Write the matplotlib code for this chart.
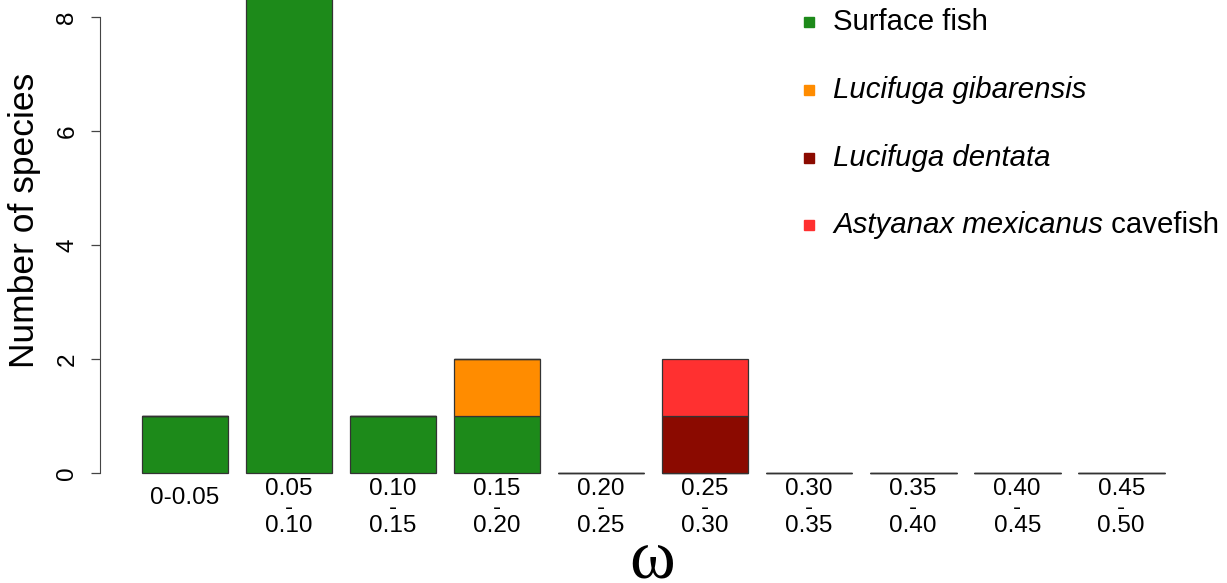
import matplotlib
matplotlib.use("Agg")
import matplotlib.pyplot as plt
import numpy as np

plt.rcParams["font.family"] = ["Liberation Sans", "DejaVu Sans"]

# omega bins and species counts per group
BIN_LOW = ["0-0.05", "0.05", "0.10", "0.15", "0.20", "0.25", "0.30", "0.35", "0.40", "0.45"]
BIN_HIGH = ["", "0.10", "0.15", "0.20", "0.25", "0.30", "0.35", "0.40", "0.45", "0.50"]

surface = [1, 9, 1, 1, 0, 0, 0, 0, 0, 0]
gibarensis = [0, 0, 0, 1, 0, 0, 0, 0, 0, 0]
dentata = [0, 0, 0, 0, 0, 1, 0, 0, 0, 0]
astyanax = [0, 0, 0, 0, 0, 1, 0, 0, 0, 0]

# (italic part, plain part, values, colour)
GROUPS = [
    ("", "Surface fish", surface, "#1d8a1a"),
    ("Lucifuga gibarensis", "", gibarensis, "#ff8c00"),
    ("Lucifuga dentata", "", dentata, "#8b0a00"),
    ("Astyanax mexicanus", " cavefish", astyanax, "#ff3030"),
]

W, H = 1227, 583
fig = plt.figure(figsize=(W / 100, H / 100), dpi=100)
ax = fig.add_axes([100 / W, 103 / H, 1127 / W, 480 / H])

# barplot-style positions: width 1, gap 0.2
x = 0.7 + 1.2 * np.arange(len(BIN_LOW))
bottom = np.zeros(len(x))
for _, _, vals, col in GROUPS:
    vals = np.array(vals, dtype=float)
    ax.bar(x, vals, width=1.0, bottom=bottom, color=col,
           edgecolor="#333333", linewidth=0.9)
    bottom += vals

ax.set_xlim(-0.28, 12.72)
ax.set_ylim(-0.123, 8.298)

for s in ["top", "right", "bottom"]:
    ax.spines[s].set_visible(False)
ax.spines["left"].set_bounds(0, 8)
ax.spines["left"].set_color("#444444")
ax.set_xticks([])
ax.set_yticks([0, 2, 4, 6, 8])
ax.tick_params(axis="y", length=6.5, width=0.9, color="#444444",
               labelsize=17.5, pad=9, labelrotation=90)
for lab in ax.get_yticklabels():
    lab.set_va("center")

ax.set_ylabel("Number of species", fontsize=25.5)
ax.yaxis.set_label_coords(-0.052, 0.54)

# two-line bin labels under each bar
trans = ax.get_xaxis_transform()
for xi, lo, hi in zip(x, BIN_LOW, BIN_HIGH):
    if hi:
        ax.text(xi, 0.004, f"{lo}\n-\n{hi}", transform=trans, ha="center",
                va="top", fontsize=17.5, linespacing=0.8)
    else:
        ax.text(xi, -0.015, lo, transform=trans, ha="center", va="top",
                fontsize=17.5)

fig.text(652 / W, 1 - 577 / H, "ω", ha="center", va="baseline",
         fontsize=50, family=["Liberation Serif", "DejaVu Serif"])

# legend: square key + label (italic species name, plain suffix)
renderer = fig.canvas.get_renderer()
rows_y = [22, 90, 158, 225]
for (ital, plain, _, col), ry in zip(GROUPS, rows_y):
    yf = 1 - ry / H
    fig.lines.append(plt.Line2D([809 / W], [yf], marker="s", markersize=7.5,
                                color=col, linestyle="none",
                                transform=fig.transFigure))
    xpos = 833 / W
    if ital:
        t = fig.text(xpos, yf, ital, ha="left", va="center", fontsize=21.2,
                     fontstyle="italic")
        xpos = fig.transFigure.inverted().transform(
            (t.get_window_extent(renderer).x1, 0))[0]
    if plain:
        fig.text(xpos, yf, plain, ha="left", va="center", fontsize=21.2)

fig.savefig("out.png", dpi=100)
